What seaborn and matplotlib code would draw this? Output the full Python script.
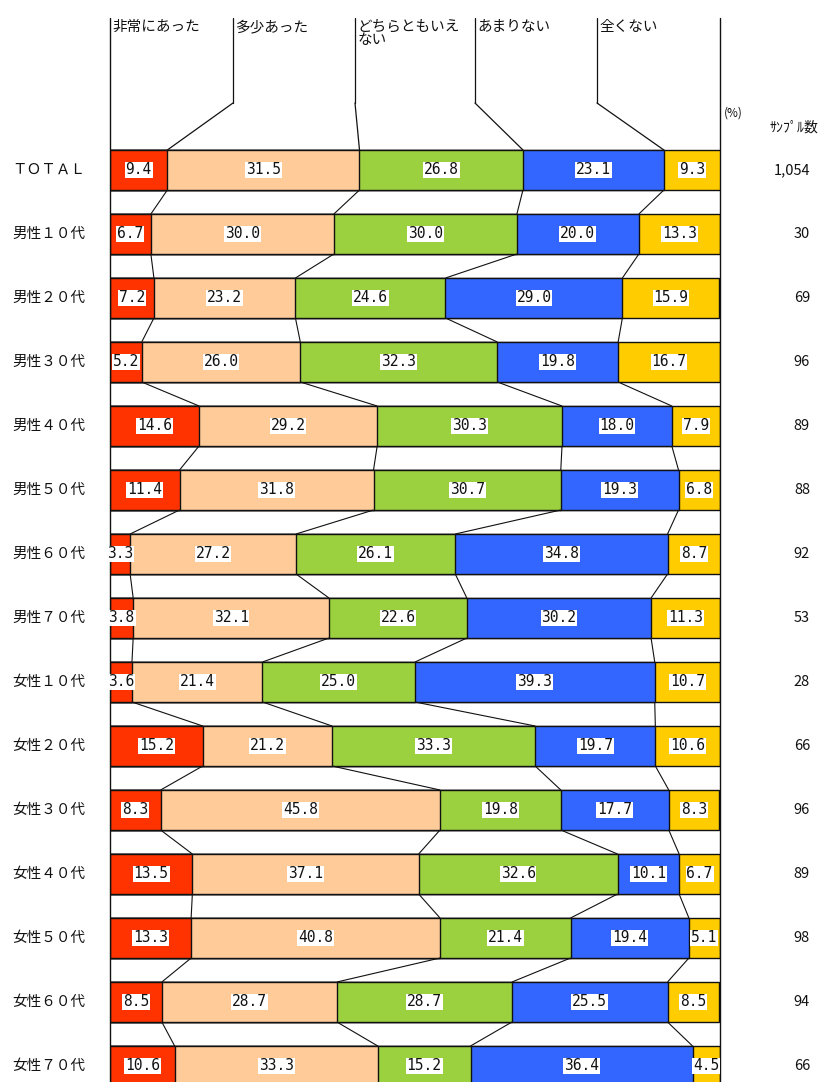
import matplotlib
matplotlib.use("Agg")
import matplotlib.pyplot as plt
import numpy as np
import pandas as pd
import seaborn as sns

# Survey groups (top to bottom)
groups = ["ＴＯＴＡＬ", "男性１０代", "男性２０代", "男性３０代", "男性４０代", "男性５０代",
          "男性６０代", "男性７０代", "女性１０代", "女性２０代", "女性３０代", "女性４０代",
          "女性５０代", "女性６０代", "女性７０代"]
# Answer categories
answers = ["非常にあった", "多少あった", "どちらともいえ\nない", "あまりない", "全くない"]
# Percentages per answer
very_much = [9.4, 6.7, 7.2, 5.2, 14.6, 11.4, 3.3, 3.8, 3.6, 15.2, 8.3, 13.5, 13.3, 8.5, 10.6]
somewhat = [31.5, 30.0, 23.2, 26.0, 29.2, 31.8, 27.2, 32.1, 21.4, 21.2, 45.8, 37.1, 40.8, 28.7, 33.3]
neutral = [26.8, 30.0, 24.6, 32.3, 30.3, 30.7, 26.1, 22.6, 25.0, 33.3, 19.8, 32.6, 21.4, 28.7, 15.2]
not_much = [23.1, 20.0, 29.0, 19.8, 18.0, 19.3, 34.8, 30.2, 39.3, 19.7, 17.7, 10.1, 19.4, 25.5, 36.4]
not_at_all = [9.3, 13.3, 15.9, 16.7, 7.9, 6.8, 8.7, 11.3, 10.7, 10.6, 8.3, 6.7, 5.1, 8.5, 4.5]
# Sample sizes
samples = ["1,054", "30", "69", "96", "89", "88", "92", "53", "28", "66", "96", "89", "98", "94", "66"]

colors = ["#FF3300", "#FFCC99", "#9BD03F", "#3366FF", "#FFCC00"]

sns.set_theme(style="white")
plt.rcParams["font.family"] = ["Noto Sans CJK JP", "DejaVu Sans"]

W, H = 820, 1082
fig = plt.figure(figsize=(W / 100, H / 100), dpi=100)
left_px, right_px = 110, 720
ax = fig.add_axes([left_px / W, 0, (right_px - left_px) / W, 1])

series = np.array([very_much, somewhat, neutral, not_much, not_at_all])
cum = np.cumsum(series, axis=0)

bar_h = 40 / 64
# stacked bars drawn as overlapping cumulative totals, widest first
for k in range(4, -1, -1):
    df = pd.DataFrame({"group": groups, "value": cum[k]})
    sns.barplot(data=df, x="value", y="group", orient="h", color=colors[k],
                saturation=1, width=bar_h, edgecolor="#111111", linewidth=1.0,
                errorbar=None, ax=ax)

px_per_unit = (right_px - left_px) / 100.0
y_top = -170 / 64
y_bot = (H - 170) / 64
ax.set_xlim(0, 100)
ax.set_ylim(y_bot, y_top)
ax.set_axis_off()

def py(p):
    return (p - 170) / 64

def pxx(p):
    return (p - left_px) / px_per_unit

half = bar_h / 2
# connector lines between consecutive rows
for r in range(len(groups) - 1):
    for k in range(4):
        ax.plot([cum[k][r], cum[k][r + 1]], [r + half, r + 1 - half],
                color="#111111", lw=0.8, solid_capstyle="butt", zorder=5)

# frame verticals
ax.plot([0, 0], [py(18), y_bot], color="#111111", lw=1.0, clip_on=False, zorder=6)
ax.plot([100, 100], [py(18), y_bot], color="#111111", lw=1.0, clip_on=False, zorder=6)

# header labels with leader lines
leader_x = [0, pxx(233), pxx(355), pxx(475), pxx(597)]
for k, lab in enumerate(answers):
    ax.text(leader_x[k] + 0.35, py(20), lab, ha="left", va="top", fontsize=10.5,
            linespacing=0.95, color="#111111", clip_on=False)
    if k > 0:
        ax.plot([leader_x[k], leader_x[k]], [py(18), py(103)], color="#111111", lw=0.9,
                clip_on=False)
        ax.plot([leader_x[k], cum[k - 1][0]], [py(103), -half], color="#111111", lw=0.9,
                clip_on=False)

# value labels
for r in range(len(groups)):
    for k in range(5):
        v = series[k][r]
        start = cum[k][r] - v
        ax.text(start + v / 2, r, f"{v:.1f}", ha="center", va="center", fontsize=10.5,
                family="DejaVu Sans Mono", color="#111111", zorder=8,
                bbox=dict(boxstyle="square,pad=0.06", fc="white", ec="none"))

# group labels and sample sizes
for r, g in enumerate(groups):
    ax.text(pxx(12), r, g, ha="left", va="center", fontsize=10.5, color="#111111",
            clip_on=False)
    ax.text(pxx(810), r, samples[r], ha="right", va="center", fontsize=10.5,
            color="#111111", clip_on=False)

ax.text(pxx(733), py(113), "(%)", ha="center", va="center", fontsize=8.5,
        color="#111111", clip_on=False)
ax.text(pxx(794), py(128), "ｻﾝﾌﾟﾙ数", ha="center", va="center", fontsize=10,
        color="#111111", clip_on=False)

fig.savefig("out.png", dpi=100, facecolor="white")
